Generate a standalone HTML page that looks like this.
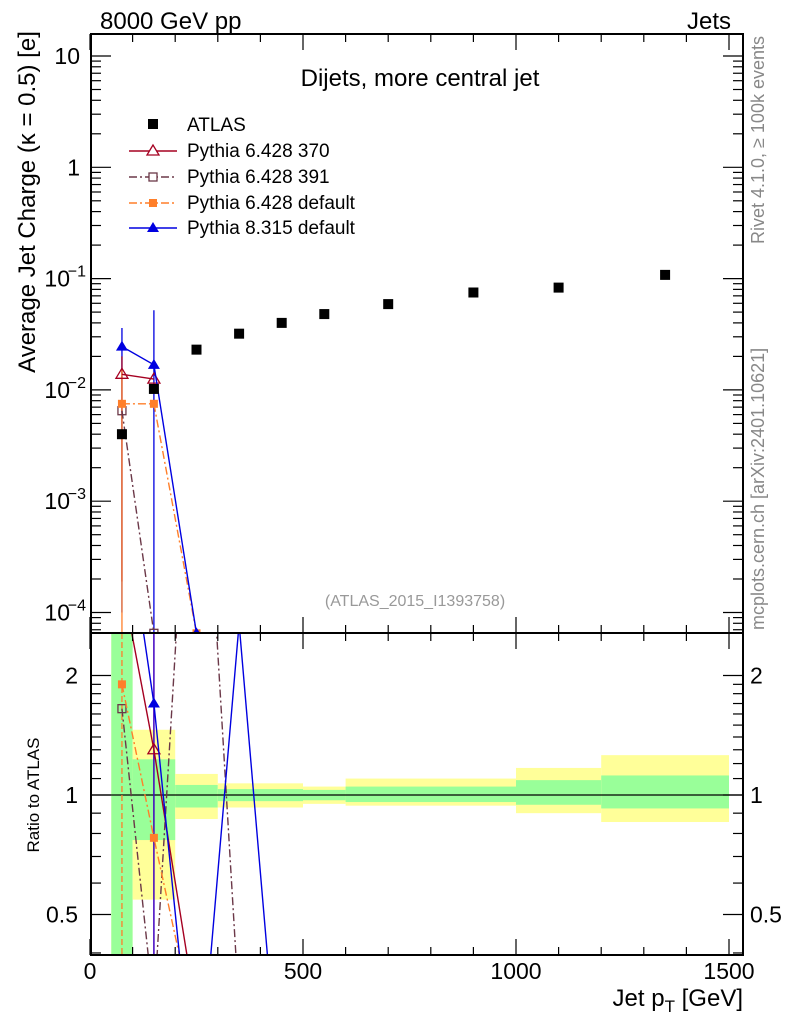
<!DOCTYPE html>
<html><head><meta charset="utf-8"><style>
html,body{margin:0;padding:0;background:#fff;width:786px;height:1024px;overflow:hidden;position:relative;}
svg{display:block;font-family:"Liberation Sans",sans-serif;}
</style></head><body>
<svg id="c" width="786" height="1024" viewBox="0 0 786 1024" style="position:absolute;left:0;top:0"></svg>
<script>
const xCenters=[75,150,250,350,450,550,700,900,1100,1350];
const atlasVals=[0.004,0.0102,0.023,0.032,0.040,0.048,0.059,0.075,0.083,0.108];
const p370=[0.0138,0.0125];
const p391=[0.0065,0.000065];
const p6def=[0.0075,0.0075,0.000065];
const p8def=[0.0245,0.0168,0.000065];
const r370=[3.45,1.3,0.28];
const r391=[1.65,0.29,18,0.29];
const r6def=[1.9,0.78,0.25];
const r8def=[6,1.7,0.15,2.7,0.15];
const bandEdges=[50,100,200,300,500,600,1000,1200,1500];
const yelHi=[3,1.46,1.13,1.07,1.05,1.1,1.17,1.26];
const yelLo=[0.3,0.545,0.87,0.93,0.95,0.94,0.9,0.855];
const grnHi=[3,1.23,1.06,1.035,1.03,1.05,1.09,1.12];
const grnLo=[0.3,0.77,0.93,0.965,0.97,0.96,0.945,0.925];
const xTicks=[0,500,1000,1500];
const ratioTicks=[0.5,1,2];

const NS="http://www.w3.org/2000/svg";
const svg=document.getElementById('c');
const L=91,R=743,T=34,MB=633,RB=955;
const X=v=>90+v*(639/1500);
const Y=v=>56-(Math.log10(v)-1)*111.3;
const RY=v=>795-Math.log2(v)*119.5;
function el(tag,attrs,parent){const e=document.createElementNS(NS,tag);for(const k in attrs)e.setAttribute(k,attrs[k]);(parent||svg).appendChild(e);return e;}
function txt(s,attrs,parent){const e=el('text',attrs,parent);e.textContent=s;return e;}
const defs=el('defs',{});
const c1=el('clipPath',{id:'cm'},defs);el('rect',{x:L,y:T,width:R-L,height:MB-T},c1);
const c2=el('clipPath',{id:'cr'},defs);el('rect',{x:L,y:MB,width:R-L,height:RB-MB},c2);

const gb=el('g',{'clip-path':'url(#cr)'});
for(let i=0;i<bandEdges.length-1;i++){
  const x0=X(bandEdges[i]),x1=X(bandEdges[i+1]);
  const y=el('rect',{x:x0,y:RY(yelHi[i]),width:x1-x0,height:RY(yelLo[i])-RY(yelHi[i]),fill:'#ffff99'},gb);
  
  
  const g=el('rect',{x:x0,y:RY(grnHi[i]),width:x1-x0,height:RY(grnLo[i])-RY(grnHi[i]),fill:'#99ff99'},gb);
  
  
}
el('line',{x1:L,x2:R,y1:RY(1),y2:RY(1),stroke:'#000','stroke-width':1.2});

const series=[
 {name:'pythia-6428-370',main:p370,ratio:r370,color:'#a50021',dash:'',mk:'tri-open'},
 {name:'pythia-6428-391',main:p391,ratio:r391,color:'#6b3848',dash:'8,3,2,3',mk:'sq-open'},
 {name:'pythia-6428-default',main:p6def,ratio:r6def,color:'#ff7f2a',dash:'8,3,2,3',mk:'sq'},
 {name:'pythia-8315-default',main:p8def,ratio:r8def,color:'#0000e0',dash:'',mk:'tri'}];
function marker(mk,x,y,color,parent){
  let m;
  if(mk==='sq') m=el('rect',{x:x-4,y:y-4,width:8,height:8,fill:color},parent);
  else if(mk==='sq-open') m=el('rect',{x:x-4,y:y-4,width:8,height:8,fill:'none',stroke:color,'stroke-width':1.3},parent);
  else if(mk==='tri') m=el('polygon',{points:`${x},${y-6} ${x-6},${y+4} ${x+6},${y+4}`,fill:color},parent);
  else m=el('polygon',{points:`${x},${y-6} ${x-6},${y+4} ${x+6},${y+4}`,fill:'none',stroke:color,'stroke-width':1.3},parent);
  return m;
}
const gm=el('g',{'clip-path':'url(#cm)'});
const gr=el('g',{'clip-path':'url(#cr)'});
[[75,0.036,0.0001,'#0000e0'],[150,0.052,0.00001,'#0000e0'],[75,0.02,0.00019,'#a50021'],[75,0.015,0.00001,'#ff7f2a']].forEach(e=>{
  const l=el('line',{x1:X(e[0]),x2:X(e[0]),y1:Y(e[1]),y2:Y(e[2]),stroke:e[3],'stroke-width':1.3},gm);
  
  
});
el('line',{x1:X(150),x2:X(150),y1:MB,y2:RB,stroke:'#4000c0','stroke-width':1.5},gr);
el('line',{x1:X(75),x2:X(75),y1:MB,y2:RB,stroke:'#ff7f2a','stroke-width':1.3,'stroke-dasharray':'6,3'},gr);
series.forEach(s=>{
  const pm=s.main.map((v,i)=>X(xCenters[i])+','+Y(v)).join(' ');
  const l=el('polyline',{points:pm,fill:'none',stroke:s.color,'stroke-width':1.4,'stroke-dasharray':s.dash},gm);
  
  
  s.main.forEach((v,i)=>{const m=marker(s.mk,X(xCenters[i]),Y(v),s.color,gm);
    
    });
  const pr=s.ratio.map((v,i)=>X(xCenters[i])+','+RY(v)).join(' ');
  const lr=el('polyline',{points:pr,fill:'none',stroke:s.color,'stroke-width':1.4,'stroke-dasharray':s.dash},gr);
  
  
  s.ratio.forEach((v,i)=>{const m=marker(s.mk,X(xCenters[i]),RY(v),s.color,gr);
    
    });
});
atlasVals.forEach((v,i)=>{
  const m=el('rect',{x:X(xCenters[i])-5,y:Y(v)-5,width:10,height:10,fill:'#000'},gm);
  
  
});

el('rect',{x:L,y:T,width:R-L,height:MB-T,fill:'none',stroke:'#000','stroke-width':2});
el('rect',{x:L,y:MB,width:R-L,height:RB-MB,fill:'none',stroke:'#000','stroke-width':2});
for(let v=0;v<=1500;v+=100){
  const big=v%500===0, len=big?16:8;
  [[T,1],[MB,-1],[MB,1],[RB,-1]].forEach(([y0,d])=>el('line',{x1:X(v),x2:X(v),y1:y0,y2:y0+d*len,stroke:'#000','stroke-width':1.2}));
}
xTicks.forEach(v=>{const t=txt(String(v),{x:X(v),y:979,'font-size':23,'text-anchor':'middle'});
  });
for(let e=-5;e<=1;e++){for(let k=1;k<10;k++){const v=k*Math.pow(10,e);const y=Y(v);if(y<T||y>MB)continue;
  const len=k===1?20:10;
  el('line',{x1:L,x2:L+len,y1:y,y2:y,stroke:'#000','stroke-width':1.2});
  el('line',{x1:R,x2:R-len,y1:y,y2:y,stroke:'#000','stroke-width':1.2});}}
const ylab=[[1,'10',''],[0,'1',''],[-1,'10','−1'],[-2,'10','−2'],[-3,'10','−3'],[-4,'10','−4']];
ylab.forEach(([e,b,s])=>{const y=Y(Math.pow(10,e));
  const t=txt('',{x:s?70:80,y:y+8,'font-size':23,'text-anchor':'end'});
  
  t.textContent=b;
  if(s){const sp=txt(s,{x:86,y:y-2,'font-size':16,'text-anchor':'end'});}
});
[0.4,0.5,0.6,0.7,0.8,0.9,1,2].forEach(v=>{const y=RY(v);const len=(v===0.5||v===1||v===2)?20:10;
  el('line',{x1:L,x2:L+len,y1:y,y2:y,stroke:'#000','stroke-width':1.2});
  el('line',{x1:R,x2:R-len,y1:y,y2:y,stroke:'#000','stroke-width':1.2});});
[1.1,1.2,1.3,1.4,1.5,1.6,1.7,1.8,1.9].forEach(v=>{const y=RY(v);
  el('line',{x1:L,x2:L+10,y1:y,y2:y,stroke:'#000','stroke-width':1.2});
  el('line',{x1:R,x2:R-10,y1:y,y2:y,stroke:'#000','stroke-width':1.2});});
ratioTicks.forEach(v=>{const y=RY(v);
  const a=txt(String(v),{x:78,y:y+8,'font-size':23,'text-anchor':'end'});
  const b=txt(String(v),{x:750,y:y+8,'font-size':23});});
</script>
<svg width="786" height="1024" style="position:absolute;left:0;top:0;font-family:'Liberation Sans',sans-serif">
<text x="100" y="29" font-size="24">8000 GeV pp</text>
<text x="731" y="29" font-size="24" text-anchor="end">Jets</text>
<text x="420" y="86" font-size="24" text-anchor="middle">Dijets, more central jet</text>
<text x="415" y="606" font-size="16" fill="#999" text-anchor="middle">(ATLAS_2015_I1393758)</text>
<text transform="translate(35,202) rotate(-90)" font-size="24" text-anchor="middle">Average Jet Charge (κ = 0.5) [e]</text>
<text transform="translate(39,795) rotate(-90)" font-size="17" text-anchor="middle">Ratio to ATLAS</text>
<text x="743" y="1006" font-size="24" text-anchor="end">Jet p<tspan font-size="17" dy="6">T</tspan><tspan dy="-6"> [GeV]</tspan></text>
<text transform="translate(764,36) rotate(-90)" font-size="18" fill="#888" text-anchor="end">Rivet 4.1.0, ≥ 100k events</text>
<text transform="translate(764,630) rotate(-90)" font-size="18" fill="#888">mcplots.cern.ch [arXiv:2401.10621]</text>
<g>
<rect x="148" y="119" width="10" height="10" fill="#000"/>
<text x="187" y="131" font-size="19">ATLAS</text>
<line x1="129" x2="177" y1="151" y2="151" stroke="#a50021" stroke-width="1.4"/>
<polygon points="153,145 147,155 159,155" fill="#fff" stroke="#a50021" stroke-width="1.3"/>
<text x="187" y="157" font-size="19">Pythia 6.428 370</text>
<line x1="129" x2="177" y1="177" y2="177" stroke="#6b3848" stroke-width="1.4" stroke-dasharray="8,3,2,3"/>
<rect x="149" y="173" width="8" height="8" fill="#fff" stroke="#6b3848" stroke-width="1.3"/>
<text x="187" y="183" font-size="19">Pythia 6.428 391</text>
<line x1="129" x2="177" y1="203" y2="203" stroke="#ff7f2a" stroke-width="1.4" stroke-dasharray="8,3,2,3"/>
<rect x="149" y="199" width="8" height="8" fill="#ff7f2a"/>
<text x="187" y="209" font-size="19">Pythia 6.428 default</text>
<line x1="129" x2="177" y1="228" y2="228" stroke="#0000e0" stroke-width="1.4"/>
<polygon points="153,222 147,232 159,232" fill="#0000e0"/>
<text x="187" y="234" font-size="19">Pythia 8.315 default</text>
</g>
</svg>
</body></html>
